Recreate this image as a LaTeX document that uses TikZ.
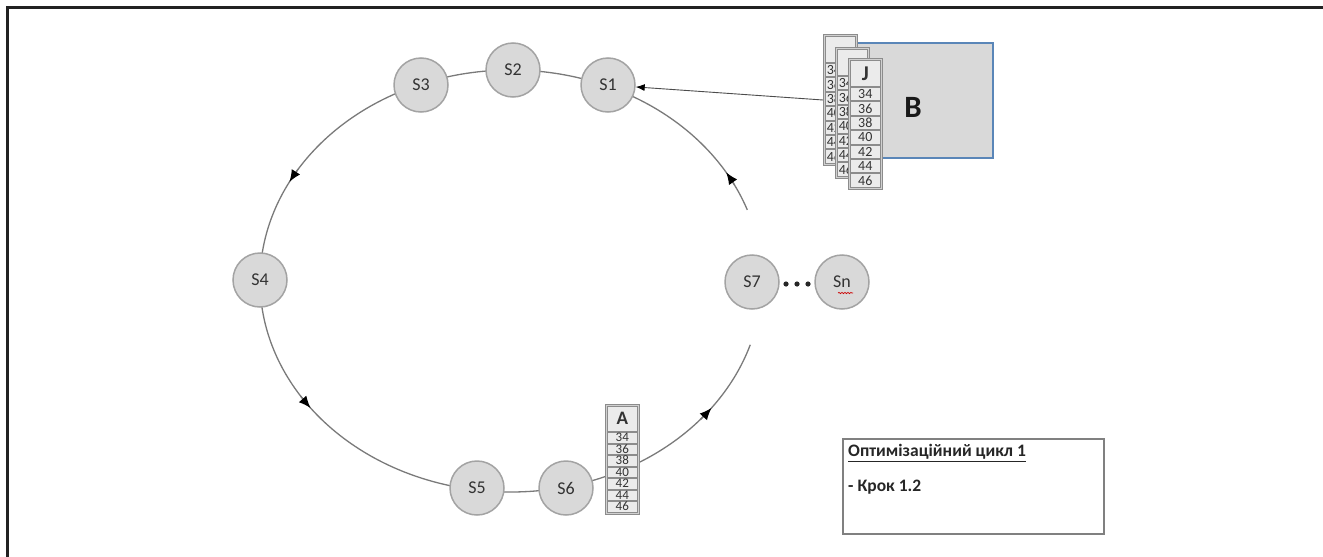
\documentclass[tikz,border=0pt]{standalone}
\usepackage{fontspec}
\setmainfont{Carlito}
\usetikzlibrary{arrows.meta,decorations.pathmorphing}
\definecolor{nfill}{HTML}{D9D9D9}
\definecolor{nframe}{HTML}{A3A3A3}
\definecolor{ntext}{HTML}{333333}
\definecolor{ringc}{HTML}{7A7A7A}
\definecolor{colbgc}{HTML}{D0D0D0}
\definecolor{colframec}{HTML}{8C8C8C}
\definecolor{cellc}{HTML}{EBEBEB}
\definecolor{bblue}{HTML}{5A86B8}
\definecolor{legframe}{HTML}{808080}
\definecolor{framec}{HTML}{222222}
\newcommand{\datacol}[9]{%
  \pgfmathsetmacro\dcL{#2}%
  \pgfmathsetmacro\dcT{#3}%
  \pgfmathsetmacro\dcW{#4}%
  \pgfmathsetmacro\dcH{#5}%
  \pgfmathsetmacro\dcR{#6}%
  \pgfmathsetmacro\dcRt{\dcL+\dcW}%
  \pgfmathsetmacro\dcB{\dcT+\dcH+7*\dcR+2}%
  \pgfmathsetmacro\dcCW{\dcW-4}%
  \pgfmathsetmacro\dcTW{\dcW-7}%
  \pgfmathsetmacro\dcHH{\dcH-3}%
  \pgfmathsetmacro\dcRH{\dcR-1}%
  \filldraw[colbg] (\dcL,\dcT) rectangle (\dcRt,\dcB);
  \node[cell, anchor=north west, minimum width=\dcCW pt, minimum height=\dcHH pt, font=#8] (#1) at (\dcL+2,\dcT+2) {#7};
  \foreach \v [count=\i from 0] in {34,36,38,40,42,44,46}{
    \node[cell, anchor=north west, minimum width=\dcCW pt, minimum height=\dcRH pt, #9] (#1-\i) at (\dcL+2,{\dcT+\dcH+\i*\dcR}) {\v};
  }%
}
\begin{document}
\begin{tikzpicture}[x=1pt,y=-1pt,
  snode/.style={circle, minimum size=54pt, inner sep=0pt, fill=nfill, draw=nframe, line width=1.5pt,
    text=ntext, font=\fontsize{18}{20}\selectfont},
  ring/.style={draw=ringc, line width=1.3pt},
  tip/.style={ring, -{Latex[length=12pt,width=10pt,color=black]}},
  colbg/.style={fill=colbgc, draw=colframec, line width=0.8pt},
  cell/.style={draw=colframec, fill=cellc, line width=0.6pt, inner sep=0pt, text=ntext},
  conn/.style={draw=black!70, line width=0.9pt, -{Latex[length=9pt,width=7pt,color=black]}},
  legtext/.style={anchor=west, inner sep=0pt, text=black!85, font=\fontsize{17.5}{19}\selectfont\bfseries}
]
\useasboundingbox (0,0) rectangle (1323,557);
\fill[white] (0,0) rectangle (1323,557);

% ring
\draw[ring] plot[domain=19.7:342.4, samples=240, smooth] ({511+251*cos(\x)},{281-211*sin(\x)});
\foreach \t in {31,152,217,323}{
  \draw[tip] plot[domain=\t-4:\t, samples=5] ({511+251*cos(\x)},{281-211*sin(\x)});
}

% stations
\node[snode] (S1) at (608,85) {S1};
\node[snode] (S2) at (513,70) {S2};
\node[snode] (S3) at (421,85) {S3};
\node[snode] (S4) at (260,280) {S4};
\node[snode] (S5) at (477,488) {S5};
\node[snode] (S6) at (566,488) {S6};
\node[snode] (S7) at (752,282) {S7};
\node[snode] (Sn) at (842,282) {Sn};
\foreach \dx in {786,797,808}{ \fill[black!85] (\dx,284) circle (2.6pt); }
\draw[red!80!black, line width=0.7pt, decorate, decoration={snake, amplitude=0.6pt, segment length=3pt}]
  ([xshift=-4pt,yshift=-11pt]Sn.center) -- ([xshift=11pt,yshift=-11pt]Sn.center);

% column A
\datacol{colA}{605}{404}{34}{28}{11.5}{A}{\fontsize{19}{19}\selectfont\bfseries}{font=\fontsize{13}{13}\selectfont}

% block B
\node[draw=bblue, fill=nfill, line width=2pt, anchor=north west, minimum width=137pt, minimum height=115pt, inner sep=0pt] (Bbox) at (855,42) {};
\node[font=\fontsize{31}{31}\selectfont\bfseries, text=black!90] (Blab) at (913,107) {B};
\datacol{colB1}{823}{34}{34}{29}{14.4}{}{\fontsize{18}{18}\selectfont\bfseries}{font=\fontsize{14}{14}\selectfont, text width=\dcTW pt, align=left}
\datacol{colB2}{835}{47}{34}{29}{14.4}{}{\fontsize{18}{18}\selectfont\bfseries}{font=\fontsize{14}{14}\selectfont, text width=\dcTW pt, align=left}
\datacol{colJ}{848}{58}{34}{29}{14.4}{J}{\fontsize{21}{21}\selectfont\bfseries}{font=\fontsize{14}{14}\selectfont}

% connector from stack to S1
\coordinate (stackin) at (823,100);
\draw[conn] (stackin) -- (S1);

% legend
\node[draw=legframe, line width=1.5pt, anchor=north west, minimum width=261pt, minimum height=95pt, inner sep=0pt, fill=white] (legend) at (842,438) {};
\node[legtext] (leg1) at (848,453) {\underline{Оптимізаційний цикл 1}};
\node[legtext] (leg2) at (848,487) {- Крок 1.2};

% frame
\draw[framec, line width=3pt] (7,557) -- (7,7) -- (1323,7);
\end{tikzpicture}
\end{document}
